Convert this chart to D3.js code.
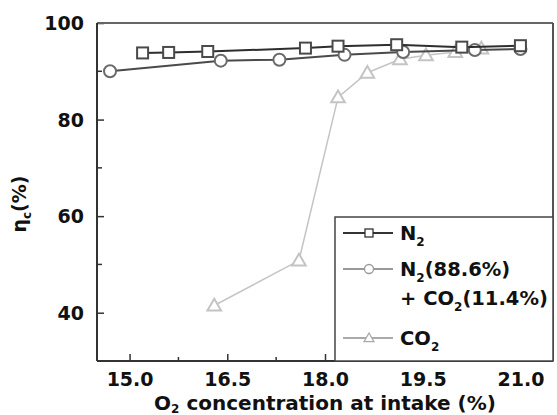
<!DOCTYPE html>
<html>
<head>
<meta charset="utf-8">
<script src="https://cdn.jsdelivr.net/npm/d3@7"></script>
<style>
  body { margin: 0; background: #fff; }
  text { font-family: "DejaVu Sans", Verdana, sans-serif; font-weight: bold; fill: #111; }
</style>
</head>
<body>
<div id="chart"></div>
<script>
// O2 concentration (%) vs combustion efficiency (%)
const n2X = [15.2, 15.6, 16.2, 17.7, 18.2, 19.1, 20.1, 21.0]
const n2Y = [93.8, 93.9, 94.1, 94.8, 95.2, 95.5, 95.0, 95.3]

const mixX = [14.7, 16.4, 17.3, 18.3, 19.2, 20.3, 21.0]
const mixY = [90.0, 92.2, 92.4, 93.4, 94.0, 94.4, 94.6]

const co2X = [16.3, 17.6, 18.2, 18.65, 19.15, 19.55, 20.0, 20.4]
const co2Y = [41.5, 50.8, 84.6, 89.7, 92.5, 93.3, 94.0, 94.7]

const xTicks = [15.0, 16.5, 18.0, 19.5, 21.0]
const yTicks = [40, 60, 80, 100]

const margin = { top: 23, right: 4, bottom: 54, left: 97 }
const W = 557, H = 415
const width = W - margin.left - margin.right
const height = H - margin.top - margin.bottom

const svg = d3.select("#chart").append("svg")
   .attr("width", W)
   .attr("height", H)

const g = svg.append("g")
   .attr("transform", "translate(" + margin.left + "," + margin.top + ")")

let x = d3.scaleLinear().domain([14.5, 21.5]).range([0, width])
let y = d3.scaleLinear().domain([30, 100]).range([height, 0])

// minor ticks
g.selectAll("line.xminor").data(d3.range(15.75, 21.5, 1.5))
   .join("line")
   .attr("x1", d => x(d)).attr("x2", d => x(d))
   .attr("y1", height).attr("y2", height - 4)
   .attr("stroke", "#333").attr("stroke-width", 1.5)

g.selectAll("line.yminor").data([50, 70, 90])
   .join("line")
   .attr("y1", d => y(d)).attr("y2", d => y(d))
   .attr("x1", 0).attr("x2", 5)
   .attr("stroke", "#333").attr("stroke-width", 1.5)

let xAxis = d3.axisBottom(x)
   .tickValues(xTicks)
   .tickFormat(d3.format(".1f"))
   .tickSizeInner(-7)
   .tickSizeOuter(0)
   .tickPadding(12)

let yAxis = d3.axisLeft(y)
   .tickValues(yTicks)
   .tickSizeInner(-7)
   .tickSizeOuter(0)
   .tickPadding(13)

let horizontalAxis = g.append("g")
   .attr("transform", "translate(0," + height + ")")
   .call(xAxis)

let verticalAxis = g.append("g").call(yAxis)

;[horizontalAxis, verticalAxis].forEach(ax => {
   ax.select(".domain").remove()
   ax.selectAll("line").attr("stroke", "#333").attr("stroke-width", 1.5)
   ax.selectAll("text").attr("font-size", 19).attr("font-family", null).attr("fill", "#111")
})
verticalAxis.selectAll("text").attr("dy", "0.36em")

// frame
g.append("line").attr("x1", 0).attr("x2", width).attr("y1", 0).attr("y2", 0)
   .attr("stroke", "#666").attr("stroke-width", 2)
g.append("line").attr("x1", width).attr("x2", width).attr("y1", 0).attr("y2", height)
   .attr("stroke", "#555").attr("stroke-width", 2)
g.append("line").attr("x1", 0).attr("x2", 0).attr("y1", 0).attr("y2", height)
   .attr("stroke", "#333").attr("stroke-width", 2)
g.append("line").attr("x1", 0).attr("x2", width).attr("y1", height).attr("y2", height)
   .attr("stroke", "#333").attr("stroke-width", 2)

const series = [
   { id: "co2", xs: co2X, ys: co2Y, line: "#c4c4c4", mark: "#c4c4c4", shape: "triangle", width: 1.5 },
   { id: "mix", xs: mixX, ys: mixY, line: "#4a4a4a", mark: "#6a6a6a", shape: "circle", width: 2 },
   { id: "n2", xs: n2X, ys: n2Y, line: "#2e2e2e", mark: "#4a4a4a", shape: "square", width: 2 }
]

let line = d3.line()
   .x(d => x(d[0]))
   .y(d => y(d[1]))

function drawMarker(sel, shape, size, color) {
   if (shape === "square") {
      sel.append("rect")
         .attr("x", -size / 2).attr("y", -size / 2)
         .attr("width", size).attr("height", size)
   } else if (shape === "circle") {
      sel.append("circle").attr("r", size / 2 + 0.5)
   } else {
      sel.append("path")
         .attr("d", "M0," + (-size * 0.62) + "L" + (size * 0.62) + "," + (size * 0.45) + "L" + (-size * 0.62) + "," + (size * 0.45) + "Z")
   }
   sel.selectAll("rect,circle,path")
      .attr("fill", "#fff")
      .attr("stroke", color)
      .attr("stroke-width", 2)
}

series.forEach(s => {
   let pts = s.xs.map((v, i) => [v, s.ys[i]])
   g.append("path")
      .datum(pts)
      .attr("d", line)
      .attr("fill", "none")
      .attr("stroke", s.line)
      .attr("stroke-width", s.width)

   g.selectAll("g.dot." + s.id).data(pts)
      .join("g")
      .attr("class", "dot " + s.id)
      .attr("transform", d => "translate(" + x(d[0]) + "," + y(d[1]) + ")")
      .each(function () { drawMarker(d3.select(this), s.shape, 11, s.mark) })
})

// legend
const lx = 335 - margin.left, ly = 217 - margin.top
g.append("rect")
   .attr("x", lx).attr("y", ly)
   .attr("width", width - lx).attr("height", height - ly)
   .attr("fill", "#fff").attr("stroke", "#444").attr("stroke-width", 1.5)

const legendRows = [
   { shape: "square", color: "#333", mark: "#333", y: 233, label: ["N", "2", ""] },
   { shape: "circle", color: "#999", mark: "#999", y: 269, label: ["N", "2", "(88.6%)"] },
   { shape: "triangle", color: "#aaa", mark: "#aaa", y: 338, label: ["CO", "2", ""] }
]

legendRows.forEach(r => {
   let ry = r.y - margin.top
   g.append("line").attr("x1", lx + 8).attr("x2", lx + 58).attr("y1", ry).attr("y2", ry)
      .attr("stroke", r.color).attr("stroke-width", 2)
   let m = g.append("g").attr("transform", "translate(" + (lx + 34) + "," + ry + ")")
   drawMarker(m, r.shape, 8, r.mark)
   m.selectAll("rect,circle,path").attr("stroke-width", 1.3)
   let t = g.append("text").attr("x", lx + 65).attr("y", ry + 7).attr("font-size", 19.5)
   t.append("tspan").text(r.label[0])
   t.append("tspan").attr("font-size", 12).attr("dy", 6).text(r.label[1])
   t.append("tspan").attr("dy", -6).text(r.label[2])
})

let t2 = g.append("text").attr("x", lx + 65).attr("y", 298 - margin.top + 7).attr("font-size", 19.5)
t2.append("tspan").text("+ CO")
t2.append("tspan").attr("font-size", 12).attr("dy", 6).text("2")
t2.append("tspan").attr("dy", -6).text("(11.4%)")

// axis titles
let xt = svg.append("text")
   .attr("x", margin.left + x(18.0))
   .attr("y", 410)
   .attr("text-anchor", "middle")
   .attr("font-size", 20)
xt.append("tspan").text("O")
xt.append("tspan").attr("font-size", 12).attr("dy", 3).text("2")
xt.append("tspan").attr("dy", -3).text(" concentration at intake (%)")

let yt = svg.append("text")
   .attr("transform", "translate(26," + (margin.top + y(62.5)) + ") rotate(-90)")
   .attr("text-anchor", "middle")
   .attr("font-size", 19)
yt.append("tspan").text("η")
yt.append("tspan").attr("font-size", 12).attr("dy", 5).text("c")
yt.append("tspan").attr("dy", -5).text("(%)")
</script>
</body>
</html>
